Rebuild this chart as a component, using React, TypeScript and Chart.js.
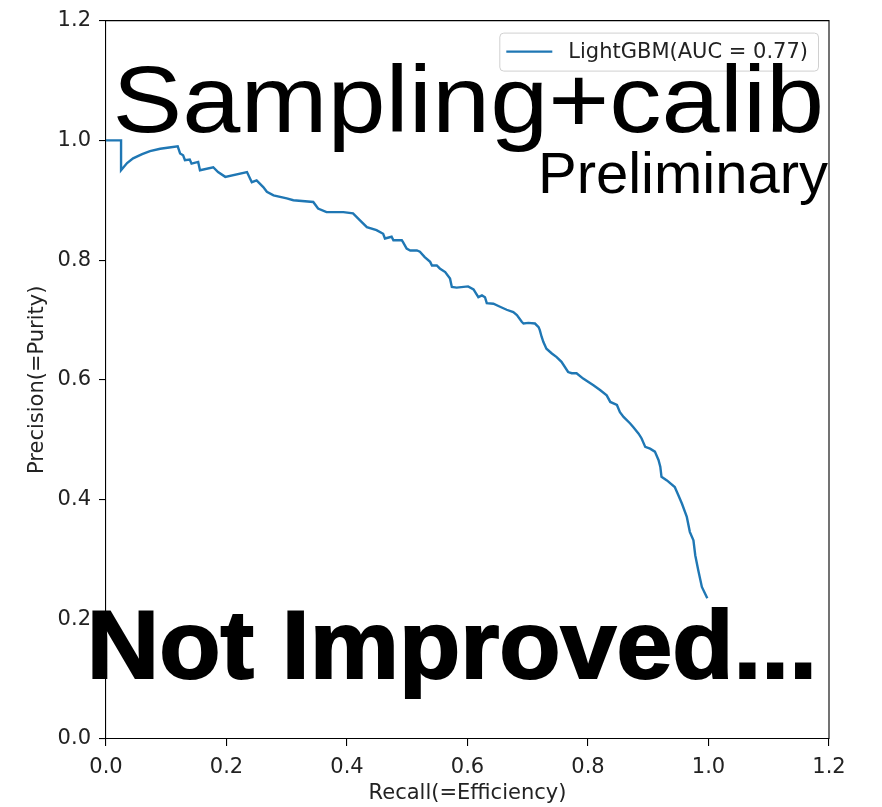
import React, { useEffect, useRef } from "react";
import { Chart, registerables } from "chart.js";

Chart.register(...registerables);

const recall = [
  0, 0.025, 0.025, 0.035, 0.045, 0.06, 0.073, 0.09, 0.105, 0.119,
  0.123, 0.128, 0.131, 0.139, 0.142, 0.153, 0.156, 0.178, 0.186, 0.198,
  0.234, 0.242, 0.25, 0.261, 0.267, 0.278, 0.3, 0.311, 0.344, 0.352,
  0.366, 0.394, 0.41, 0.422, 0.433, 0.449, 0.46, 0.463, 0.474, 0.477,
  0.491, 0.493, 0.499, 0.505, 0.516, 0.521, 0.529, 0.538, 0.541, 0.549,
  0.554, 0.563, 0.571, 0.574, 0.582, 0.601, 0.61, 0.618, 0.624, 0.629,
  0.632, 0.643, 0.654, 0.665, 0.676, 0.682, 0.69, 0.693, 0.701, 0.712,
  0.718, 0.72, 0.723, 0.726, 0.731, 0.74, 0.748, 0.756, 0.767, 0.773,
  0.781, 0.792, 0.809, 0.82, 0.831, 0.837, 0.848, 0.853, 0.859, 0.87,
  0.875, 0.884, 0.889, 0.895, 0.903, 0.911, 0.917, 0.92, 0.922, 0.931,
  0.944, 0.95, 0.956, 0.964, 0.969, 0.975, 0.978, 0.983, 0.989, 0.998,
];
const precision = [
  1.0, 1.0, 0.95, 0.962, 0.97, 0.977, 0.982, 0.986, 0.988, 0.99,
  0.978, 0.975, 0.967, 0.968, 0.961, 0.964, 0.95, 0.955, 0.947, 0.939,
  0.947, 0.93, 0.933, 0.922, 0.914, 0.908, 0.903, 0.9, 0.897, 0.886,
  0.88, 0.88, 0.878, 0.866, 0.855, 0.85, 0.844, 0.836, 0.839, 0.833,
  0.833, 0.83, 0.819, 0.816, 0.816, 0.814, 0.805, 0.797, 0.791, 0.791,
  0.786, 0.78, 0.769, 0.755, 0.754, 0.756, 0.751, 0.738, 0.741, 0.738,
  0.728, 0.727, 0.722, 0.717, 0.713, 0.708, 0.697, 0.694, 0.695, 0.694,
  0.688, 0.683, 0.672, 0.663, 0.652, 0.644, 0.638, 0.63, 0.613, 0.611,
  0.611, 0.602, 0.591, 0.583, 0.574, 0.563, 0.558, 0.546, 0.538, 0.527,
  0.521, 0.51, 0.502, 0.488, 0.485, 0.48, 0.466, 0.455, 0.438, 0.432,
  0.421, 0.407, 0.393, 0.371, 0.346, 0.332, 0.307, 0.282, 0.254, 0.235,
];

const seriesLabel = "LightGBM(AUC = 0.77)";
const xTitle = "Recall(=Efficiency)";
const yTitle = "Precision(=Purity)";
const axisMin = 0;
const axisMax = 1.2;
const tickStep = 0.2;
const overlayTexts = ["Sampling+calib", "Preliminary", "Not Improved..."];

const LINE_COLOR = "#1f77b4";
const TEXT_COLOR = "#222222";
const FONT = "'DejaVu Sans', sans-serif";

function drawFitted(ctx: CanvasRenderingContext2D, text: string, font: string, left: number, right: number, baseline: number, stroke = 0) {
  ctx.save();
  ctx.font = font;
  ctx.textAlign = "left";
  ctx.textBaseline = "alphabetic";
  const m = ctx.measureText(text);
  const ink = m.actualBoundingBoxLeft + m.actualBoundingBoxRight + stroke;
  const s = (right - left) / ink;
  ctx.translate(left, baseline);
  ctx.scale(s, 1);
  ctx.fillStyle = "#000";
  const px = m.actualBoundingBoxLeft + stroke / 2;
  ctx.fillText(text, px, 0);
  if (stroke > 0) {
    ctx.strokeStyle = "#000";
    ctx.lineWidth = stroke;
    ctx.lineJoin = "miter";
    ctx.strokeText(text, px, 0);
  }
  ctx.restore();
}

const decorPlugin = {
  id: "decor",
  afterDatasetsDraw(chart: any) {
    const { ctx, chartArea } = chart;
    ctx.save();
    ctx.strokeStyle = "#000";
    ctx.lineWidth = 1.1;
    ctx.beginPath();
    ctx.moveTo(chartArea.left, chartArea.top);
    ctx.lineTo(chartArea.right, chartArea.top);
    ctx.lineTo(chartArea.right, chartArea.bottom);
    ctx.stroke();
    ctx.restore();

    ctx.save();
    ctx.font = `21px ${FONT}`;
    const tw = ctx.measureText(seriesLabel).width;
    const boxRight = chartArea.right - 11;
    const boxTop = chartArea.top + 12;
    const boxH = 38;
    const boxW = 7 + 46 + 16 + tw + 10;
    const boxLeft = boxRight - boxW;
    ctx.beginPath();
    (ctx as any).roundRect(boxLeft + 0.5, boxTop + 0.5, boxW, boxH, 4);
    ctx.fillStyle = "rgba(255,255,255,0.8)";
    ctx.fill();
    ctx.strokeStyle = "#d0d0d0";
    ctx.lineWidth = 1;
    ctx.stroke();
    const cy = boxTop + boxH / 2;
    ctx.beginPath();
    ctx.moveTo(boxLeft + 7, cy);
    ctx.lineTo(boxLeft + 53, cy);
    ctx.strokeStyle = LINE_COLOR;
    ctx.lineWidth = 2.4;
    ctx.stroke();
    ctx.fillStyle = TEXT_COLOR;
    ctx.textBaseline = "middle";
    ctx.textAlign = "left";
    ctx.fillText(seriesLabel, boxLeft + 69, cy + 1);
    ctx.restore();
  },
  afterDraw(chart: any) {
    const { ctx } = chart;
    drawFitted(ctx, overlayTexts[0], "95px 'Liberation Sans', Arial, sans-serif", 117, 820, 132);
    drawFitted(ctx, overlayTexts[1], "58px 'Liberation Sans', Arial, sans-serif", 542, 828, 193);
    drawFitted(ctx, overlayTexts[2], "bold 97px 'Liberation Sans', Arial, sans-serif", 92, 812, 678, 2);
  },
};

export default function App() {
  const ref = useRef<HTMLCanvasElement | null>(null);
  useEffect(() => {
    if (!ref.current) return;
    const points = recall.map((x, i) => ({ x, y: precision[i] }));
    const tickFont = { family: FONT, size: 21 };
    const chart = new Chart(ref.current, {
      type: "line",
      data: {
        datasets: [
          {
            label: seriesLabel,
            data: points,
            borderColor: LINE_COLOR,
            borderWidth: 2.4,
            pointRadius: 0,
            fill: false,
            tension: 0,
          },
        ],
      },
      options: {
        animation: false,
        responsive: false,
        devicePixelRatio: 1,
        layout: { padding: { left: 0, top: 20, right: 53, bottom: 0 } },
        plugins: { legend: { display: false }, tooltip: { enabled: false } },
        scales: {
          x: {
            type: "linear",
            min: axisMin,
            max: axisMax,
            afterFit: (s: any) => { s.height = 68; },
            grid: { display: true, drawOnChartArea: false, drawTicks: true, tickLength: 7, color: "#000", lineWidth: 1.1 },
            border: { display: true, color: "#000", width: 1.1 },
            ticks: { stepSize: tickStep, padding: 9, color: TEXT_COLOR, font: tickFont, maxRotation: 0, callback: (v: any) => Number(v).toFixed(1) },
            title: { display: true, text: xTitle, color: TEXT_COLOR, font: tickFont, padding: { top: 0, bottom: 1 } },
          },
          y: {
            type: "linear",
            min: axisMin,
            max: axisMax,
            afterFit: (s: any) => { s.width = 106; },
            grid: { display: true, drawOnChartArea: false, drawTicks: true, tickLength: 7, color: "#000", lineWidth: 1.1 },
            border: { display: true, color: "#000", width: 1.1 },
            ticks: { stepSize: tickStep, padding: 8, color: TEXT_COLOR, font: tickFont, callback: (v: any) => Number(v).toFixed(1) },
            title: { display: true, text: yTitle, color: TEXT_COLOR, font: tickFont, padding: { top: 25, bottom: 0 } },
          },
        },
      },
      plugins: [decorPlugin],
    });
    return () => chart.destroy();
  }, []);
  return <canvas ref={ref} width={882} height={807} style={{ position: "fixed", left: 0, top: 0 }} />;
}
